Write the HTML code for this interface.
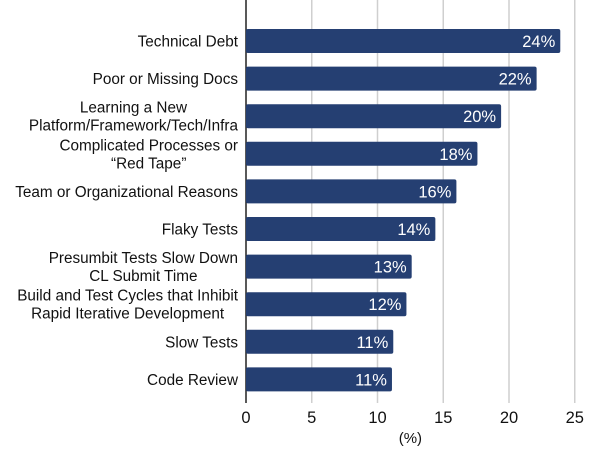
<!DOCTYPE html>
<html><head><meta charset="utf-8"><style>
body{margin:0;background:#fff;font-family:"Liberation Sans",Arial,sans-serif}
svg{display:block}
</style></head><body>
<svg id="chart" width="600" height="459" viewBox="0 0 600 459" xmlns="http://www.w3.org/2000/svg"></svg>
<script>
const categories=[["Technical Debt"],["Poor or Missing Docs"],["Learning a New","Platform/Framework/Tech/Infra"],["Complicated Processes or","“Red Tape”"],["Team or Organizational Reasons"],["Flaky Tests"],["Presumbit Tests Slow Down","CL Submit Time"],["Build and Test Cycles that Inhibit","Rapid Iterative Development"],["Slow Tests"],["Code Review"]];
const values=[23.9,22.1,19.4,17.6,16.0,14.4,12.6,12.2,11.2,11.1];
const valueLabels=["24%","22%","20%","18%","16%","14%","13%","12%","11%","11%"];
const ticks=[0,5,10,15,20,25];

const svg=document.getElementById('chart');
const NS="http://www.w3.org/2000/svg";
const x0=246,pxPerUnit=13.15,top0=41,rowStep=37.6,barH=24,axisBottom=403;
const xs=v=>x0+v*pxPerUnit;
const yc=i=>top0+i*rowStep;
function mk(tag,attrs,parent){const e=document.createElementNS(NS,tag);for(const k in attrs)e.setAttribute(k,attrs[k]);(parent||svg).appendChild(e);return e;}

ticks.forEach(t=>{
  if(t>0){const g=mk('line',{x1:xs(t),x2:xs(t),y1:0,y2:axisBottom,stroke:'#cfcfcf','stroke-width':1.5});
  
  }
  const tl=mk('text',{x:xs(t),y:423,'text-anchor':'middle','font-size':16.5,fill:'#111'});
  tl.textContent=t;
  
  
});
const ax=mk('line',{x1:x0,x2:x0,y1:0,y2:axisBottom,stroke:'#222','stroke-width':1.5});


const xt=mk('text',{x:xs(12.5),y:443,'text-anchor':'middle','font-size':15,fill:'#111'});
xt.textContent='(%)';



values.forEach((v,i)=>{
  const r=mk('rect',{x:x0,y:yc(i)-barH/2,width:xs(v)-x0,height:barH,rx:2,fill:'#253f72'});
  
  
  const t=mk('text',{x:xs(v)-5,y:yc(i)+6,'text-anchor':'end','font-size':16.5,fill:'#fff'});
  t.textContent=valueLabels[i];
  
  
  const lines=categories[i];
  const lt=mk('text',{'text-anchor':'middle','font-size':15.3,fill:'#111'});
  
  
  const spans=lines.map((s,j)=>{
    const ts=mk('tspan',{x:0,y:yc(i)+5.5-(lines.length-1)*9+j*18},lt);
    ts.textContent=s;
    return ts;
  });
  let maxW=0;spans.forEach(s=>{maxW=Math.max(maxW,s.getComputedTextLength());});
  spans.forEach(s=>s.setAttribute('x',238-maxW/2));
});
</script>
</body></html>
